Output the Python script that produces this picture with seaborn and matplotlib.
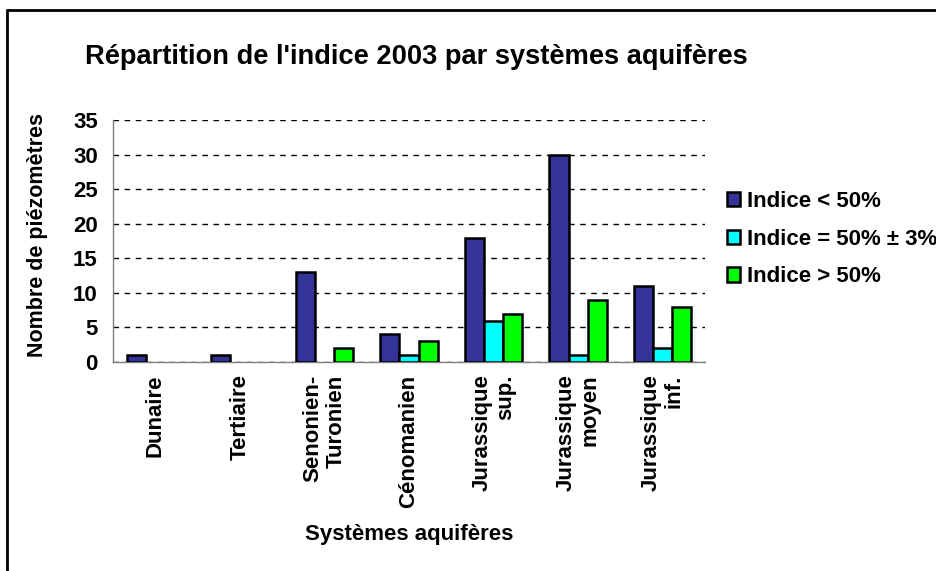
import seaborn as sns
import pandas as pd
from matplotlib import pyplot as plt
from matplotlib.lines import Line2D
from matplotlib.patches import Patch

categories = ['Dunaire', 'Tertiaire', 'Senonien-\nTuronien', 'Cénomanien',
              'Jurassique\nsup.', 'Jurassique\nmoyen', 'Jurassique\ninf.']
series = ['Indice < 50%', 'Indice = 50% ± 3%', 'Indice > 50%']
indice_inf = [1, 1, 13, 4, 18, 30, 11]
indice_egal = [0, 0, 0, 1, 6, 1, 2]
indice_sup = [0, 0, 2, 3, 7, 9, 8]
colors = ['#333399', '#00FFFF', '#00FF00']
y_ticks = [0, 5, 10, 15, 20, 25, 30, 35]

# long format table for seaborn
rows = []
for name, values in zip(series, [indice_inf, indice_egal, indice_sup]):
    for cat, v in zip(categories, values):
        rows.append({'systeme': cat, 'serie': name, 'valeur': v})
df = pd.DataFrame(rows)

sns.set_style('white')
plt.rcParams['font.family'] = ['Liberation Sans', 'DejaVu Sans']
plt.rcParams['font.weight'] = 'bold'
plt.rcParams['text.color'] = 'black'
plt.rcParams['axes.labelcolor'] = 'black'
plt.rcParams['xtick.color'] = 'black'
plt.rcParams['ytick.color'] = 'black'

fig = plt.figure(figsize=(9.37, 5.71), dpi=100)
ax = fig.add_axes([113 / 937, 1 - 362 / 571, (705 - 113) / 937, (362 - 120) / 571])

sns.barplot(data=df, x='systeme', y='valeur', hue='serie', order=categories,
            hue_order=series, palette=colors, width=0.68, edgecolor='black',
            linewidth=1.8, saturation=1, errorbar=None, ax=ax, zorder=3,
            legend=False)

# hide the empty bars
for patch in ax.patches:
    if patch.get_height() == 0:
        patch.set_visible(False)

ax.set_ylim(0, 35)
ax.set_xlim(-0.5, len(categories) - 0.5)
ax.set_yticks(y_ticks)
ax.yaxis.grid(True, color='black', linestyle=(0, (4, 4)), linewidth=1)
ax.set_axisbelow(True)

# category ticks at group boundaries
ax.set_xticks([i - 0.5 for i in range(len(categories) + 1)], minor=True)
ax.tick_params(axis='x', which='major', length=0, pad=9)
ax.tick_params(axis='x', which='minor', length=6, color='#808080', width=1)
ax.tick_params(axis='y', length=6, color='#808080', width=1, labelsize=16, pad=5)
for lbl in ax.get_yticklabels():
    lbl.set_fontweight('bold')
for lbl in ax.get_xticklabels():
    lbl.set_rotation(90)
    lbl.set_ha('center')
    lbl.set_va('top')
    lbl.set_multialignment('right')
    lbl.set_fontsize(16)
    lbl.set_fontweight('bold')
    lbl.set_linespacing(1.15)

for side in ['top', 'right']:
    ax.spines[side].set_visible(False)
for side in ['left', 'bottom']:
    ax.spines[side].set_color('#808080')
    ax.spines[side].set_linewidth(1)

ax.set_xlabel('Systèmes aquifères', fontsize=16, fontweight='bold', labelpad=12)
ax.set_ylabel('Nombre de piézomètres', fontsize=15.5, fontweight='bold')
ax.yaxis.set_label_coords(-0.11, 0.525)

fig.text(85 / 937, 1 - 57 / 571, "Répartition de l'indice 2003 par systèmes aquifères",
         fontsize=19.6, fontweight='bold', va='center', ha='left')

handles = [Patch(facecolor=c, edgecolor='black', linewidth=1.8) for c in colors]
leg = ax.legend(handles, series, loc='upper left', bbox_to_anchor=(727 / 937, 1 - 191 / 571),
                bbox_transform=fig.transFigure, frameon=False, fontsize=16,
                handlelength=0.6, handleheight=0.6, handletextpad=0.3,
                labelspacing=0.75, borderaxespad=0, borderpad=0)
for t in leg.get_texts():
    t.set_fontweight('bold')

# outer frame (left and top edges only)
fig.add_artist(Line2D([7 / 937, 7 / 937], [0, 1 - 10 / 571], color='black', linewidth=2,
                      transform=fig.transFigure))
fig.add_artist(Line2D([7 / 937, 1], [1 - 10 / 571, 1 - 10 / 571], color='black', linewidth=2,
                      transform=fig.transFigure))

fig.savefig('out.png', dpi=100)
